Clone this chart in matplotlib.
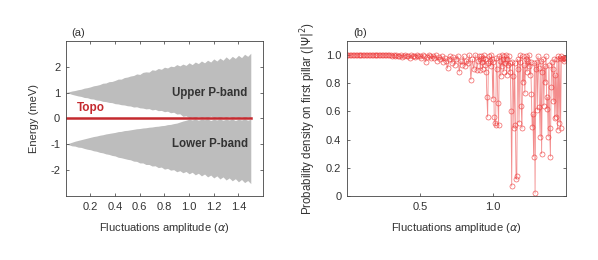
import numpy as np
import matplotlib
matplotlib.use("Agg")
import matplotlib.pyplot as plt

plt.rcParams['font.family'] = ['Liberation Sans', 'DejaVu Sans']
plt.rcParams['axes.unicode_minus'] = False

# ---- panel (a): band edges, alpha step 0.025 ----
alpha_a = np.arange(61) * 0.025

upper_top = [1.00, 1.03, 1.06, 1.08, 1.11, 1.13, 1.17, 1.19, 1.22, 1.26,
             1.28, 1.31, 1.36, 1.37, 1.42, 1.43, 1.47, 1.52, 1.52, 1.58,
             1.60, 1.64, 1.66, 1.72, 1.70, 1.78, 1.80, 1.79, 1.88, 1.86,
             1.93, 1.90, 1.98, 1.95, 2.02, 2.00, 2.08, 2.03, 2.10, 2.05,
             2.15, 2.08, 2.18, 2.12, 2.22, 2.15, 2.25, 2.18, 2.30, 2.22,
             2.33, 2.25, 2.38, 2.28, 2.40, 2.32, 2.44, 2.35, 2.48, 2.40,
             2.52]
upper_bottom = [1.00, 0.97, 0.93, 0.90, 0.87, 0.85, 0.81, 0.80, 0.76, 0.75,
                0.71, 0.70, 0.66, 0.65, 0.62, 0.61, 0.57, 0.56, 0.53, 0.52,
                0.49, 0.48, 0.44, 0.45, 0.41, 0.40, 0.37, 0.38, 0.33, 0.35,
                0.30, 0.31, 0.26, 0.28, 0.22, 0.24, 0.17, 0.18, 0.08, 0.10,
                0.03, 0.06, 0.02, 0.08, 0.03, 0.06, 0.02, 0.09, 0.03, 0.06,
                0.02, 0.07, 0.03, 0.08, 0.02, 0.06, 0.03, 0.07, 0.02, 0.06,
                0.03]
lower_top = [-1.00, -0.96, -0.92, -0.88, -0.85, -0.82, -0.79, -0.76, -0.73, -0.70,
             -0.68, -0.65, -0.63, -0.60, -0.58, -0.56, -0.54, -0.51, -0.50, -0.47,
             -0.46, -0.44, -0.42, -0.40, -0.39, -0.37, -0.36, -0.34, -0.33, -0.31,
             -0.30, -0.28, -0.27, -0.24, -0.23, -0.20, -0.18, -0.14, -0.10, -0.07,
             -0.03, -0.06, -0.02, -0.07, -0.03, -0.05, -0.02, -0.08, -0.03, -0.06,
             -0.02, -0.07, -0.03, -0.06, -0.02, -0.08, -0.03, -0.06, -0.02, -0.07,
             -0.03]
lower_bottom = [-1.00, -1.02, -1.06, -1.07, -1.11, -1.12, -1.16, -1.19, -1.21, -1.25,
                -1.27, -1.31, -1.33, -1.37, -1.39, -1.43, -1.45, -1.50, -1.52, -1.55,
                -1.58, -1.60, -1.65, -1.66, -1.72, -1.72, -1.78, -1.78, -1.84, -1.83,
                -1.90, -1.88, -1.96, -1.93, -2.00, -1.98, -2.06, -2.02, -2.10, -2.05,
                -2.14, -2.08, -2.18, -2.12, -2.22, -2.15, -2.26, -2.19, -2.30, -2.22,
                -2.34, -2.26, -2.38, -2.30, -2.41, -2.33, -2.45, -2.36, -2.48, -2.40,
                -2.52]
topo_energy = np.zeros(len(alpha_a))

# ---- panel (b): probability on first pillar ----
alpha_b = np.concatenate([np.arange(90) * 0.01, 0.9 + np.arange(121) * 0.005])
prob_b = [
    # 0.00 - 0.89 (step 0.01)
    1.0, 1.0, 1.0, 1.0, 1.0, 1.0, 1.0, 1.0, 1.0, 1.0,
    1.0, 1.0, 1.0, 1.0, 1.0, 1.0, 1.0, 1.0, 1.0, 1.0,
    1.0, 1.0, 0.998, 1.0, 1.0, 1.0, 0.998, 1.0, 1.0, 1.0,
    1.0, 0.995, 1.0, 0.99, 1.0, 0.995, 0.99, 1.0, 0.985, 0.995,
    1.0, 0.99, 0.995, 0.98, 1.0, 0.99, 0.995, 0.985, 1.0, 0.99,
    0.995, 0.98, 1.0, 0.99, 0.95, 0.985, 1.0, 0.99, 0.975, 0.995,
    0.98, 1.0, 0.96, 0.985, 0.97, 0.99, 0.95, 0.98, 0.96, 0.905,
    0.97, 0.99, 0.94, 0.985, 0.93, 0.97, 0.995, 0.88, 0.96, 0.93,
    0.99, 0.92, 0.96, 0.94, 1.0, 0.825, 0.97, 0.90, 1.0, 0.89,
    # 0.900 - 1.500 (step 0.005)
    0.96, 0.99, 0.97, 0.89, 0.99, 0.95, 0.90, 0.98, 1.00, 0.93,
    0.97, 0.88, 0.70, 0.56, 0.94, 0.99, 0.96, 0.92, 1.00, 0.97,
    0.69, 0.95, 0.56, 0.52, 0.50, 0.98, 0.90, 0.66, 0.50, 0.99,
    0.96, 0.85, 1.00, 0.92, 0.97, 0.88, 0.99, 0.94, 1.00, 0.86,
    0.97, 0.93, 0.99, 0.88, 0.94, 0.60, 0.07, 0.95, 0.85, 0.48,
    0.94, 0.50, 0.12, 0.14, 0.97, 0.90, 0.52, 0.95, 1.00, 0.64,
    0.48, 0.99, 0.81, 0.93, 0.73, 0.97, 0.99, 0.88, 0.96, 0.92,
    1.00, 0.86, 0.95, 0.72, 0.49, 0.58, 0.28, 0.94, 0.02, 0.90,
    0.95, 0.61, 0.99, 0.91, 0.63, 0.42, 0.96, 0.30, 0.88, 0.97,
    0.64, 0.92, 0.81, 0.99, 0.62, 0.70, 0.42, 0.93, 0.48, 0.28,
    0.77, 0.95, 0.90, 0.67, 0.97, 0.55, 0.86, 0.56, 0.97, 0.47,
    0.99, 0.52, 0.98, 0.48, 0.99, 0.97, 0.98, 0.96, 0.98, 0.97,
    0.98]

fig = plt.figure(figsize=(5.98, 2.6), dpi=100)
ax1 = fig.add_axes([0.110, 0.246, 0.330, 0.597])
ax2 = fig.add_axes([0.580, 0.246, 0.366, 0.597])

# panel (a)
ax1.fill_between(alpha_a, upper_bottom, upper_top, color='#bdbdbd', lw=0)
ax1.fill_between(alpha_a, lower_bottom, lower_top, color='#bdbdbd', lw=0)
ax1.plot(alpha_a, topo_energy, color='#c42a2f', lw=1.8)
ax1.text(0.09, 0.3, 'Topo', color='#c42a2f', fontsize=8.5, fontweight='bold')
ax1.text(1.17, 1.0, 'Upper P-band', color='#333333', fontsize=8.3,
         fontweight='bold', ha='center', va='center')
ax1.text(1.17, -1.0, 'Lower P-band', color='#333333', fontsize=8.3,
         fontweight='bold', ha='center', va='center')
ax1.set_xlim(0, 1.6)
ax1.set_ylim(-3, 3)
ax1.set_xticks([0.2, 0.4, 0.6, 0.8, 1.0, 1.2, 1.4])
ax1.set_xticklabels(['0.2', '0.4', '0.6', '0.8', '1.0', '1.2', '1.4'])
ax1.set_yticks([-2, -1, 0, 1, 2])
ax1.set_xlabel(r'Fluctuations amplitude ($\alpha$)', fontsize=8, color='#333333', labelpad=7)
ax1.set_ylabel('Energy (meV)', fontsize=8, color='#333333', labelpad=8)
ax1.text(0.03, 1.03, '(a)', transform=ax1.transAxes, fontsize=8, color='#333333')

# panel (b)
ax2.plot(alpha_b, prob_b, color='#f07070', lw=0.6, alpha=0.8,
         marker='o', ms=3.6, mfc='none', mec='#ee3a3a', mew=0.5)
ax2.set_xlim(0, 1.5)
ax2.set_ylim(0, 1.1)
ax2.set_xticks([0.5, 1.0])
ax2.set_xticklabels(['0.5', '1.0'])
ax2.set_yticks([0, 0.2, 0.4, 0.6, 0.8, 1.0])
ax2.set_yticklabels(['0', '0.2', '0.4', '0.6', '0.8', '1.0'])
ax2.set_xlabel(r'Fluctuations amplitude ($\alpha$)', fontsize=8, color='#333333', labelpad=7)
ax2.set_ylabel(r'Probability density on first pillar ($|\Psi|^2$)', fontsize=8.3,
               color='#333333', labelpad=6)
ax2.text(0.03, 1.03, '(b)', transform=ax2.transAxes, fontsize=8, color='#333333')

for ax in (ax1, ax2):
    ax.tick_params(direction='in', top=True, right=True, length=2.5, width=0.5,
                   labelsize=8, colors='#333333', pad=4)
    for s in ax.spines.values():
        s.set_linewidth(0.6)
        s.set_color('#444444')

fig.savefig('out.png', dpi=100)
